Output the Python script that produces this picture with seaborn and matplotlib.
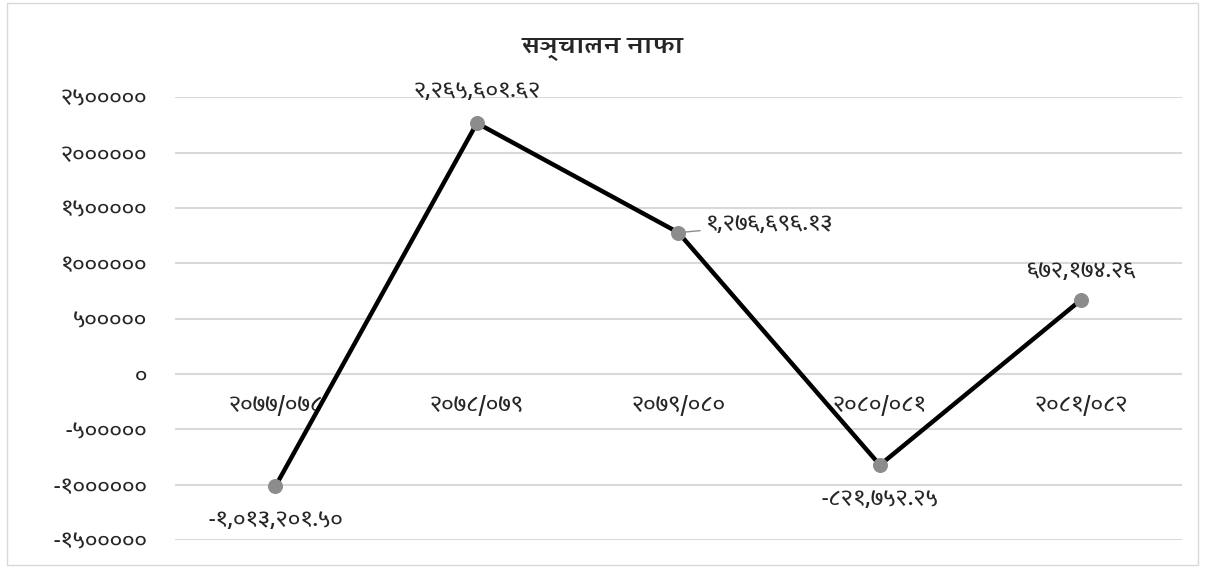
import matplotlib
matplotlib.use("Agg")
import matplotlib.pyplot as plt
import seaborn as sns
import pandas as pd
from matplotlib.ticker import FuncFormatter
from matplotlib.patches import Rectangle

# data
years = ["२०७७/०७८", "२०७८/०७९", "२०७९/०८०", "२०८०/०८१", "२०८१/०८२"]
profit = [-1013201.50, 2265601.62, 1276696.13, -821752.25, 672174.26]
value_labels = ["-१,०१३,२०१.५०", "२,२६५,६०१.६२", "१,२७६,६९६.१३", "-८२१,७५२.२५", "६७२,१७४.२६"]
title = "सञ्चालन नाफा"

sns.set_style("white")
plt.rcParams['font.family'] = ['Amiko', 'FreeSans', 'DejaVu Sans']
plt.rcParams['font.weight'] = 600

DIGITS = str.maketrans("0123456789", "०१२३४५६७८९")

def to_deva(v, pos=None):
    return str(int(round(v))).translate(DIGITS)

df = pd.DataFrame({"pos": range(len(years)), "profit": profit})

fig = plt.figure(figsize=(12.05, 5.68), dpi=100)
ax = fig.add_axes([0.145, 0.049, 0.836, 0.780])

sns.lineplot(data=df, x="pos", y="profit", ax=ax, color="black", linewidth=3.2,
             marker="o", markersize=10, markerfacecolor="#8c8c8c",
             markeredgecolor="#8c8c8c", zorder=3)

ax.set_xlim(-0.5, len(years) - 0.5)
ax.set_ylim(-1500000, 2500000)
ax.set_yticks(range(-1500000, 2500001, 500000))
ax.yaxis.set_major_formatter(FuncFormatter(to_deva))
ax.tick_params(axis="y", labelsize=15, length=0, pad=20)
ax.set_xticks([])
ax.set_xlabel("")
ax.set_ylabel("")
ax.grid(axis="y", color="#d9d9d9", linewidth=1.5)
for s in ax.spines.values():
    s.set_visible(False)

# category labels sit just under the zero line
for i, yr in enumerate(years):
    ax.annotate(yr, (i, 0), xytext=(0, -15), textcoords="offset points",
                ha="center", va="top", fontsize=15, zorder=2)

# data labels
offsets = [(0, -17, "center", "top"), (0, 15, "center", "bottom"),
           (20, 6, "left", "center"), (0, -17, "center", "top"),
           (0, 13, "center", "bottom")]
for i, (v, lab) in enumerate(zip(profit, value_labels)):
    dx, dy, ha, va = offsets[i]
    if i == 2:
        ax.annotate(lab, (i, v), xytext=(dx, dy), textcoords="offset points",
                    ha=ha, va=va, fontsize=15,
                    arrowprops=dict(arrowstyle="-", color="#8c8c8c", lw=1,
                                    shrinkA=2, shrinkB=4))
    else:
        ax.annotate(lab, (i, v), xytext=(dx, dy), textcoords="offset points",
                    ha=ha, va=va, fontsize=15)

fig.text(0.5, 0.915, title, ha="center", va="center", fontsize=17, fontweight="bold")

fig.patches.append(Rectangle((0.006, 0.005), 0.988, 0.99, transform=fig.transFigure,
                             fill=False, edgecolor="#d9d9d9", linewidth=1))

fig.savefig("out.png", dpi=100)
